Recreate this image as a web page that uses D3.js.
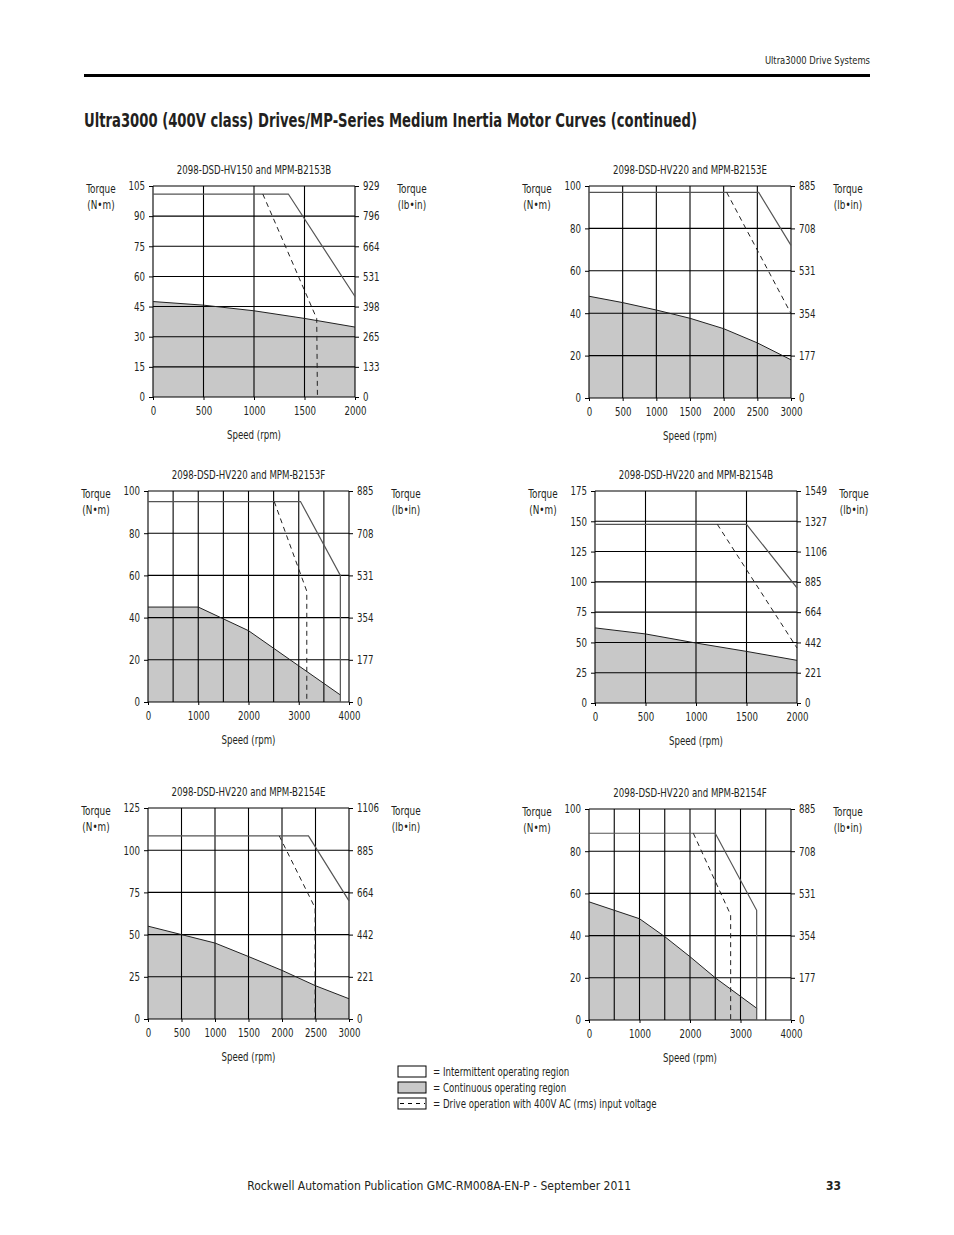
<!DOCTYPE html>
<html>
<head>
<meta charset="utf-8">
<script src="https://cdn.jsdelivr.net/npm/d3@7"></script>
<style>
  body { margin: 0; background: #fff; }
  text { font-family: "DejaVu Sans Condensed", "DejaVu Sans", sans-serif; font-stretch: condensed; fill: #231f20; }
</style>
</head>
<body>
<script>
// chart data, one entry per motor curve (reading order: left to right, top to bottom)
const chartTitles = [
  "2098-DSD-HV150 and MPM-B2153B",
  "2098-DSD-HV220 and MPM-B2153E",
  "2098-DSD-HV220 and MPM-B2153F",
  "2098-DSD-HV220 and MPM-B2154B",
  "2098-DSD-HV220 and MPM-B2154E",
  "2098-DSD-HV220 and MPM-B2154F"
];
const speedMax = [2000, 3000, 4000, 2000, 3000, 4000];
const speedLabelStep = [500, 500, 1000, 500, 500, 1000];
const speedGridStep = [500, 500, 500, 500, 500, 500];
const torqueNmTicks = [
  [0, 15, 30, 45, 60, 75, 90, 105],
  [0, 20, 40, 60, 80, 100],
  [0, 20, 40, 60, 80, 100],
  [0, 25, 50, 75, 100, 125, 150, 175],
  [0, 25, 50, 75, 100, 125],
  [0, 20, 40, 60, 80, 100]
];
const torqueLbinTicks = [
  [0, 133, 265, 398, 531, 664, 796, 929],
  [0, 177, 354, 531, 708, 885],
  [0, 177, 354, 531, 708, 885],
  [0, 221, 442, 664, 885, 1106, 1327, 1549],
  [0, 221, 442, 664, 885, 1106],
  [0, 177, 354, 531, 708, 885]
];
// intermittent (peak) torque boundary, [rpm, N·m]
const peakCurves = [
  [[0, 101], [1340, 101], [2000, 50]],
  [[0, 97], [2520, 97], [3000, 72]],
  [[0, 95], [3035, 95], [3828, 60], [3828, 0]],
  [[0, 147.5], [1500, 147.5], [2000, 95]],
  [[0, 108.5], [2395, 108.5], [3000, 70]],
  [[0, 88.5], [2500, 88.5], [3320, 52], [3320, 0]]
];
// continuous torque boundary
const contCurves = [
  [[0, 47.5], [500, 45.7], [1000, 42.9], [1500, 39.1], [2000, 34.8]],
  [[0, 48], [500, 45], [1000, 41.5], [1500, 37.6], [2000, 32.7], [2500, 26], [3000, 18]],
  [[0, 45], [1000, 45], [2000, 33.8], [3830, 3.3]],
  [[0, 62], [500, 57], [1000, 49.5], [1500, 42.6], [2000, 35.2]],
  [[0, 55], [500, 50], [1000, 45], [1500, 37], [2000, 28.8], [2500, 19.7], [3000, 12]],
  [[0, 56], [1000, 48], [1500, 39.5], [2000, 30], [2500, 20], [3330, 5.4]]
];
// 400V AC input voltage boundary (dashed)
const dashCurves = [
  [[1087, 101], [1621, 39], [1628, 0]],
  [[2045, 97], [3000, 39.8]],
  [[2512, 95], [3160, 52.5], [3160, 0]],
  [[1211, 147.5], [2000, 45.4]],
  [[1959, 108.5], [2494, 65.8], [2494, 0]],
  [[2066, 88.5], [2805, 49.8], [2805, 0]]
];
const legendLabels = [
  "= Intermittent operating region",
  "= Continuous operating region",
  "= Drive operation with 400V AC (rms) input voltage"
];

// plot frames [left, top, right, bottom] in page pixels
const boxes = [
  [153, 186, 355, 397],
  [589, 186, 791, 398],
  [148, 491, 349, 702],
  [595, 491, 797, 703],
  [148, 808, 349, 1019],
  [589, 809, 791, 1020]
];

const W = 954, H = 1235;
const svg = d3.select("body").append("svg")
  .attr("width", W)
  .attr("height", H);

svg.append("rect").attr("width", W).attr("height", H).attr("fill", "#fff");

// squeeze text horizontally around its anchor, the original face is a condensed one
function narrow(sel, k) {
  sel.each(function() {
    const t = d3.select(this);
    const x = +t.attr("x") || 0;
    t.attr("transform", `translate(${x},0) scale(${k},1) translate(${-x},0)`);
  });
}

// page header
svg.append("text")
  .attr("x", 870).attr("y", 64)
  .attr("text-anchor", "end")
  .style("font-size", "11px")
  .call(narrow, 0.85)
  .text("Ultra3000 Drive Systems");
svg.append("rect")
  .attr("x", 84).attr("y", 74).attr("width", 786).attr("height", 3)
  .attr("fill", "#000");
svg.append("text")
  .attr("x", 84).attr("y", 127)
  .attr("textLength", 613)
  .attr("lengthAdjust", "spacingAndGlyphs")
  .style("font-size", "20px")
  .style("font-weight", "bold")
  .text("Ultra3000 (400V class) Drives/MP-Series Medium Inertia Motor Curves (continued)");

const fillGrey = "#c8c8c8";

chartTitles.forEach((title, i) => {
  const [x0, y0, x1, y1] = boxes[i];
  const x = d3.scaleLinear().domain([0, speedMax[i]]).range([x0, x1]);
  const nm = torqueNmTicks[i];
  const y = d3.scaleLinear().domain([0, nm[nm.length - 1]]).range([y1, y0]);
  const g = svg.append("g").attr("class", "chart");

  const line = d3.line().x(d => x(d[0])).y(d => y(d[1]));
  const area = d3.area().x(d => x(d[0])).y0(y(0)).y1(d => y(d[1]));

  // continuous region
  g.append("path")
    .datum(contCurves[i])
    .attr("d", area)
    .attr("fill", fillGrey);

  // grid
  g.selectAll(".vgrid")
    .data(d3.range(0, speedMax[i] + 1, speedGridStep[i]))
    .join("line")
      .attr("x1", d => x(d)).attr("x2", d => x(d))
      .attr("y1", y0).attr("y2", y1)
      .attr("stroke", "#000").attr("stroke-width", 1.1);
  g.selectAll(".hgrid")
    .data(nm)
    .join("line")
      .attr("x1", x0).attr("x2", x1)
      .attr("y1", d => y(d)).attr("y2", d => y(d))
      .attr("stroke", "#000").attr("stroke-width", 1.1);

  // curves
  g.append("path")
    .datum(contCurves[i])
    .attr("d", line)
    .attr("fill", "none").attr("stroke", "#222").attr("stroke-width", 1);
  g.append("path")
    .datum(peakCurves[i])
    .attr("d", line)
    .attr("fill", "none").attr("stroke", "#555").attr("stroke-width", 1.2);
  g.append("path")
    .datum(dashCurves[i])
    .attr("d", line)
    .attr("fill", "none").attr("stroke", "#222").attr("stroke-width", 1)
    .attr("stroke-dasharray", "5,4");

  // axes
  const fmtLb = d => torqueLbinTicks[i][nm.indexOf(d)];
  const axL = g.append("g")
    .attr("transform", `translate(${x0},0)`)
    .call(d3.axisLeft(y).tickValues(nm).tickSize(4).tickPadding(4));
  const axR = g.append("g")
    .attr("transform", `translate(${x1},0)`)
    .call(d3.axisRight(y).tickValues(nm).tickSize(4).tickPadding(4).tickFormat(fmtLb));
  const axB = g.append("g")
    .attr("transform", `translate(0,${y1})`)
    .call(d3.axisBottom(x)
      .tickValues(d3.range(0, speedMax[i] + 1, speedLabelStep[i]))
      .tickFormat(d3.format("d"))
      .tickSize(3).tickPadding(6));
  [axL, axR, axB].forEach(a => {
    a.attr("font-family", null).attr("font-size", null);
    a.select(".domain").remove();
    a.selectAll("text").style("font-size", "12px").call(narrow, 0.8);
    a.selectAll("line").attr("stroke", "#000");
  });

  // title and axis labels
  const cx = (x0 + x1) / 2;
  g.append("text")
    .attr("x", cx).attr("y", y0 - 12)
    .attr("text-anchor", "middle")
    .style("font-size", "12px")
    .call(narrow, 0.8)
    .text(title);
  g.append("text")
    .attr("x", cx).attr("y", y1 + 42)
    .attr("text-anchor", "middle")
    .style("font-size", "12px")
    .call(narrow, 0.8)
    .text("Speed (rpm)");

  [[x0 - 52, "(N•m)"], [x1 + 57, "(lb•in)"]].forEach(([lx, unit]) => {
    g.append("text")
      .attr("x", lx).attr("y", y0 + 7)
      .attr("text-anchor", "middle")
      .style("font-size", "12px")
      .call(narrow, 0.82)
      .text("Torque");
    g.append("text")
      .attr("x", lx).attr("y", y0 + 23)
      .attr("text-anchor", "middle")
      .style("font-size", "12px")
      .call(narrow, 0.82)
      .text(unit);
  });
});

// legend
const legend = svg.append("g").attr("transform", "translate(398,1066)");
legendLabels.forEach((label, i) => {
  const row = legend.append("g").attr("transform", `translate(0,${i * 16})`);
  row.append("rect")
    .attr("x", 0).attr("y", 0).attr("width", 28).attr("height", 11)
    .attr("fill", i === 1 ? fillGrey : "#fff")
    .attr("stroke", "#000").attr("stroke-width", 1);
  if (i === 2) {
    row.append("line")
      .attr("x1", 2).attr("x2", 27).attr("y1", 5.5).attr("y2", 5.5)
      .attr("stroke", "#000").attr("stroke-dasharray", "4,4");
  }
  row.append("text")
    .attr("x", 35).attr("y", 10)
    .style("font-size", "12px")
    .call(narrow, 0.8)
    .text(label);
});

// footer
svg.append("text")
  .attr("x", 631).attr("y", 1190)
  .attr("text-anchor", "end")
  .style("font-size", "12px")
  .text("Rockwell Automation Publication GMC-RM008A-EN-P - September 2011");
svg.append("text")
  .attr("x", 841).attr("y", 1190)
  .attr("text-anchor", "end")
  .style("font-size", "12px")
  .style("font-weight", "bold")
  .text("33");
</script>
</body>
</html>
